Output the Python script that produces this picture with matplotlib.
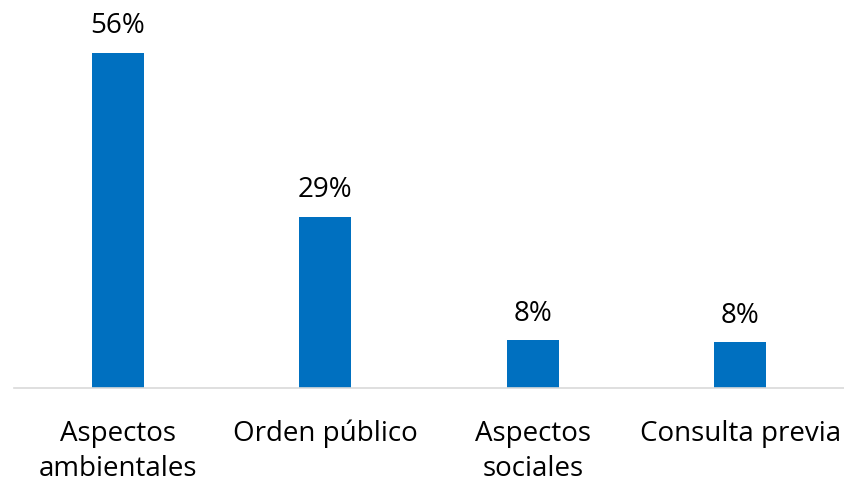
import matplotlib.pyplot as plt

# data
categories = ["Aspectos\nambientales", "Orden público", "Aspectos\nsociales", "Consulta previa"]
values = [56, 28.6, 8.0, 7.6]
value_labels = ["56%", "29%", "8%", "8%"]

plt.rcParams['font.family'] = ['Open Sans', 'DejaVu Sans']

fig = plt.figure(figsize=(8.44, 4.82), dpi=100)
ax = fig.add_axes([14 / 844, 94 / 482, 830 / 844, 359.4 / 482])

x = range(len(categories))
bars = ax.bar(x, values, width=0.25, color='#0070C0')

for rect, lab in zip(bars, value_labels):
    ax.annotate(lab, (rect.get_x() + rect.get_width() / 2, rect.get_height()),
                xytext=(0, 9), textcoords='offset points',
                ha='center', va='bottom', fontsize=20, color='black')

ax.set_xlim(-0.5, 3.5)
ax.set_ylim(0, 60)
ax.set_xticks(list(x))
ax.set_xticklabels(categories, fontsize=20, linespacing=1.35)
ax.tick_params(axis='x', length=0, pad=23)
ax.set_yticks([])

for side in ['top', 'right', 'left']:
    ax.spines[side].set_visible(False)
ax.spines['bottom'].set_color('#D9D9D9')
ax.spines['bottom'].set_linewidth(1.2)

fig.savefig('out.png', dpi=100)
